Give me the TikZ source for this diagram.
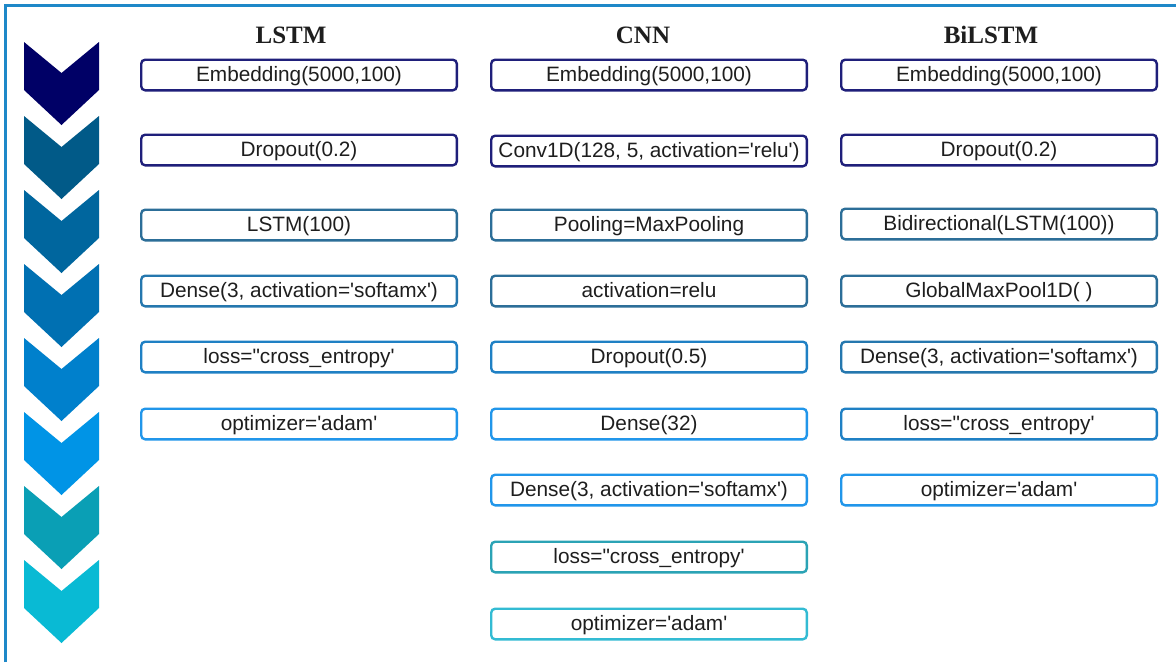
\documentclass[tikz,border=0pt]{standalone}
\usepackage{fontspec}
\newfontfamily\boxfont{Liberation Sans}[Ligatures=TeXOff]
\newfontfamily\titlefont{Liberation Serif}
\definecolor{framecol}{HTML}{1E88C8}
\definecolor{bnavy}{HTML}{1F1F7A}
\definecolor{bsteel}{HTML}{2C6E98}
\definecolor{bmid}{HTML}{2577AE}
\definecolor{bblue}{HTML}{1F80C4}
\definecolor{bbright}{HTML}{2196EA}
\definecolor{bteal}{HTML}{2BA3B5}
\definecolor{bcyan}{HTML}{33BBD3}
\definecolor{txt}{HTML}{1E1E1E}
\tikzset{
  layerbox/.style={draw=#1, line width=2.4pt, rounded corners=4pt,
    minimum width=315.6pt, minimum height=30.6pt, inner sep=0pt, fill=white, text=txt,
    font=\boxfont\fontsize{20.8}{24}\selectfont, text height=17pt, text depth=4pt},
  coltitle/.style={font=\titlefont\bfseries\fontsize{25}{30}\selectfont, inner sep=0pt, text=txt, text height=17pt, text depth=0pt}
}
\begin{document}
\begin{tikzpicture}[x=1pt,y=-1pt]
\useasboundingbox (0,0) rectangle (1176,662);
\fill[white] (0,0) rectangle (1176,662);
\draw[framecol, line width=3pt] (5,662) -- (5,5) -- (1176,5);
% chevrons
\foreach \c [count=\i from 0] in {000066,015A88,00669E,0070B2,0080CC,0094E6,0A9FB5,09BAD4} {
  \pgfmathsetmacro\t{42+74*\i}
  \definecolor{chev}{HTML}{\c}
  \fill[chev] (24,\t) -- (61.5,\t+31) -- (99,\t) -- (99,\t+48) -- (61.5,\t+83) -- (24,\t+48) -- cycle;
}
% titles
\node[coltitle] (tl) at (291,35) {LSTM};
\node[coltitle] (tc) at (643,35) {CNN};
\node[coltitle] (tb) at (991,35) {BiLSTM};
% LSTM column
\node[layerbox=bnavy]   (l1) at (299,75)  {Embedding(5000,100)};
\node[layerbox=bnavy]   (l2) at (299,150) {Dropout(0.2)};
\node[layerbox=bsteel]  (l3) at (299,225) {LSTM(100)};
\node[layerbox=bmid]    (l4) at (299,291) {Dense(3, activation='softamx')};
\node[layerbox=bblue]   (l5) at (299,357) {loss="cross\_entropy'};
\node[layerbox=bbright] (l6) at (299,424) {optimizer='adam'};
% CNN column
\node[layerbox=bnavy]   (c1) at (649,75)  {Embedding(5000,100)};
\node[layerbox=bnavy]   (c2) at (649,151) {Conv1D(128, 5, activation='relu')};
\node[layerbox=bsteel]  (c3) at (649,225) {Pooling=MaxPooling};
\node[layerbox=bsteel]  (c4) at (649,291) {activation=relu};
\node[layerbox=bblue]   (c5) at (649,357) {Dropout(0.5)};
\node[layerbox=bbright] (c6) at (649,424) {Dense(32)};
\node[layerbox=bbright] (c7) at (649,490) {Dense(3, activation='softamx')};
\node[layerbox=bteal]   (c8) at (649,557) {loss="cross\_entropy'};
\node[layerbox=bcyan]   (c9) at (649,624) {optimizer='adam'};
% BiLSTM column
\node[layerbox=bnavy]   (b1) at (999,75)  {Embedding(5000,100)};
\node[layerbox=bnavy]   (b2) at (999,150) {Dropout(0.2)};
\node[layerbox=bsteel]  (b3) at (999,224) {Bidirectional(LSTM(100))};
\node[layerbox=bsteel]  (b4) at (999,291) {GlobalMaxPool1D( )};
\node[layerbox=bmid]    (b5) at (999,357) {Dense(3, activation='softamx')};
\node[layerbox=bblue]   (b6) at (999,424) {loss="cross\_entropy'};
\node[layerbox=bbright] (b7) at (999,490) {optimizer='adam'};
\end{tikzpicture}
\end{document}
